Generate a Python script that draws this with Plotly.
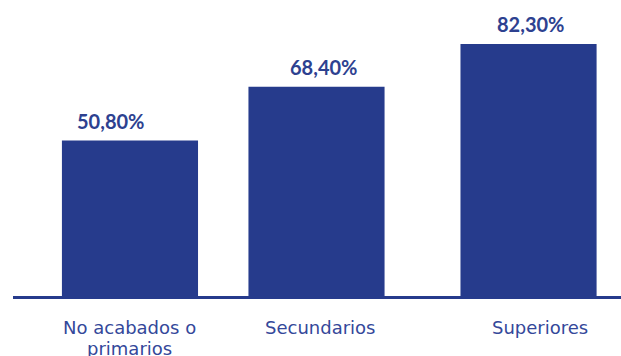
import plotly.graph_objects as go

categories = ["No acabados o<br>primarios", "Secundarios", "Superiores"]
values = [50.8, 68.4, 82.3]
value_labels = ["50,80%", "68,40%", "82,30%"]

BAR = "#263b8c"
TXT_VAL = "#2d4190"
TXT_CAT = "#34489a"
FONT_VAL = "Lato"
FONT_CAT = "DejaVu Sans"

bar_width = 0.683
bar_offsets = [-0.3415, -0.4055, -0.3415]
val_xshift = [-19.5, -5.75, 2]
cat_xshift = [0, -9.25, 11.5]
line_gap = 21

fig = go.Figure()
fig.add_trace(go.Bar(
    x=categories, y=values,
    width=bar_width, offset=bar_offsets,
    marker=dict(color=BAR, line=dict(width=0)),
    hoverinfo="skip",
))

for i, (c, v, t) in enumerate(zip(categories, values, value_labels)):
    fig.add_annotation(
        x=c, y=v, xref="x", yref="y", text=f"<b>{t}</b>", showarrow=False,
        yanchor="middle", yshift=20, xshift=val_xshift[i],
        font=dict(family=FONT_VAL, size=20, color=TXT_VAL),
    )
    for j, line in enumerate(c.split("<br>")):
        fig.add_annotation(
            x=c, y=0, xref="x", yref="y", text=line, showarrow=False,
            yanchor="middle", yshift=-31 - j * line_gap, xshift=cat_xshift[i],
            font=dict(family=FONT_CAT, size=18, color=TXT_CAT),
        )

fig.update_layout(
    width=621, height=356,
    margin=dict(l=13, r=0, t=0, b=60),
    paper_bgcolor="white", plot_bgcolor="white",
    showlegend=False,
    xaxis=dict(range=[-0.587, 2.464], showticklabels=False, showgrid=False,
               zeroline=False, showline=True, linecolor=BAR, linewidth=3, ticks=""),
    yaxis=dict(range=[0, 96.7], visible=False, showgrid=False, zeroline=False),
)

fig.write_html("out.html", config={"displayModeBar": False},
               post_script="document.body.style.margin='0';")
